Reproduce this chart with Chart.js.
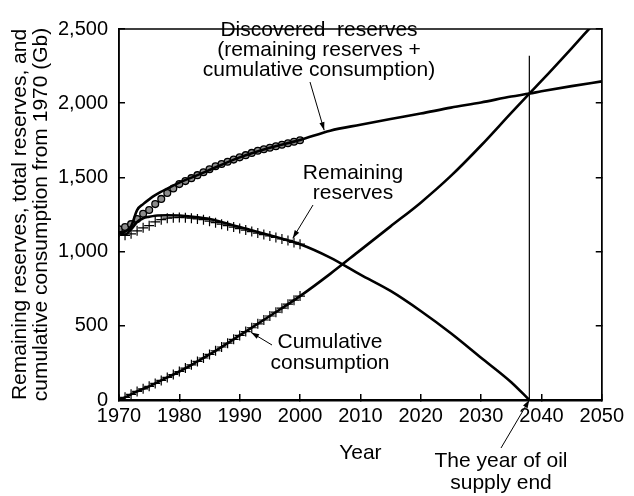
<!DOCTYPE html>
<html lang="en">
<head>
<meta charset="UTF-8">
<title>Oil reserves and cumulative consumption</title>
<script src="https://cdn.jsdelivr.net/npm/chart.js"></script>
<style>
  html, body { margin: 0; padding: 0; background: #fff; }
  #wrap { width: 634px; height: 496px; }
</style>
</head>
<body>
<div id="wrap"><canvas id="chart" width="634" height="496"></canvas></div>
<script>
// Model curves (solid lines)
const modelYears = [1970, 1971, 1972, 1973, 1974, 1975, 1976, 1978, 1980, 1983, 1985, 1990, 1995, 2000,
                    2005, 2010, 2015, 2020, 2025, 2030, 2035, 2038, 2040, 2045, 2050];
const discoveredModel = [1130, 1135, 1170, 1280, 1320, 1352, 1380, 1425, 1465, 1515, 1550, 1635, 1700, 1752,
                         1815, 1855, 1893, 1930, 1970, 2005, 2045, 2065, 2080, 2115, 2147];

const remainingYears = [1970, 1971, 1972, 1973, 1974, 1975, 1976, 1978, 1980, 1983, 1985, 1990, 1995, 2000,
                        2005, 2010, 2015, 2020, 2025, 2030, 2035, 2038];
const remainingModel = [1125, 1115, 1150, 1200, 1225, 1235, 1242, 1245, 1243, 1232, 1220, 1165, 1110, 1050,
                        960, 845, 735, 600, 450, 285, 120, 0];

const cumulativeYears = [1970, 1971, 1972, 1973, 1974, 1975, 1976, 1978, 1980, 1983, 1985, 1990, 1995, 2000,
                         2005, 2010, 2015, 2020, 2025, 2030, 2035, 2038, 2040, 2045, 2048];
const cumulativeModel = [0, 18, 38, 58, 75, 92, 112, 152, 192, 260, 307, 435, 566, 700,
                         850, 1010, 1170, 1330, 1510, 1715, 1935, 2065, 2150, 2370, 2505];

// Observed data (markers), 1970-2000
const obsYears = [1970, 1971, 1972, 1973, 1974, 1975, 1976, 1977, 1978, 1979, 1980, 1981, 1982, 1983, 1984, 1985,
                  1986, 1987, 1988, 1989, 1990, 1991, 1992, 1993, 1994, 1995, 1996, 1997, 1998, 1999, 2000];
const discoveredObs = [1150, 1165, 1185, 1220, 1255, 1280, 1320, 1355, 1395, 1425, 1455, 1475, 1495, 1515, 1535, 1555,
                       1575, 1590, 1605, 1620, 1635, 1650, 1665, 1680, 1690, 1700, 1710, 1720, 1730, 1740, 1750];
const remainingObs = [1130, 1110, 1120, 1140, 1160, 1175, 1200, 1215, 1225, 1228, 1230, 1228, 1225, 1220, 1215, 1205,
                      1195, 1185, 1175, 1165, 1155, 1145, 1135, 1125, 1115, 1105, 1095, 1085, 1075, 1062, 1050];
const cumulativeObs = [0, 18, 38, 58, 75, 92, 112, 132, 152, 172, 192, 215, 237, 260, 283, 307,
                       332, 357, 383, 409, 435, 461, 487, 513, 539, 566, 592, 619, 646, 673, 700];

// Year of oil supply end (vertical marker line)
const supplyEndYears = [2038, 2038];
const supplyEndValues = [0, 2320];

// Axis ticks
const xTickValues = [1970, 1980, 1990, 2000, 2010, 2020, 2030, 2040, 2050];
const xTickLabels = ['1970', '1980', '1990', '2000', '2010', '2020', '2030', '2040', '2050'];
const yTickValues = [0, 500, 1000, 1500, 2000, 2500];
const yTickLabels = ['0', '500', '1,000', '1,500', '2,000', '2,500'];

const FONT = "'Liberation Sans', Arial, Helvetica, sans-serif";

function pts(xs, ys) {
    return xs.map((x, i) => ({ x: x, y: ys[i] }));
}

// Text labels with arrows; arrow tips are in data units
const notes = [
    { lines: ['Discovered  reserves', '(remaining reserves +', 'cumulative consumption)'], x: 319, y: 30, lh: 20,
      from: [310, 82], tip: [2004, 1818] },
    { lines: ['Remaining', 'reserves'], x: 353, y: 173, lh: 20,
      from: [313, 205], tip: [1998.8, 1090] },
    { lines: ['Cumulative', 'consumption'], x: 330, y: 342, lh: 21,
      from: [272, 345], tip: [1991.9, 455] },
    { lines: ['The year of oil', 'supply end'], x: 501, y: 461, lh: 22,
      from: [501, 448], tip: [2038, 0] }
];

const notesPlugin = {
    id: 'notes',
    afterDatasetsDraw(chart) {
        const ctx = chart.ctx;
        const xs = chart.scales.x, ys = chart.scales.y;
        const area = chart.chartArea;
        ctx.save();
        // frame
        ctx.strokeStyle = '#000';
        ctx.lineWidth = 1.5;
        ctx.beginPath();
        ctx.moveTo(area.left, area.bottom);
        ctx.lineTo(area.left, area.top);
        ctx.lineTo(area.right, area.top);
        ctx.lineTo(area.right, area.bottom);
        ctx.stroke();

        ctx.fillStyle = '#000';
        ctx.font = '21px ' + FONT;
        ctx.textAlign = 'center';
        ctx.textBaseline = 'middle';
        notes.forEach(n => {
            n.lines.forEach((t, i) => ctx.fillText(t, n.x, n.y + i * n.lh));
            const tx = xs.getPixelForValue(n.tip[0]);
            const ty = ys.getPixelForValue(n.tip[1]);
            const fx = n.from[0], fy = n.from[1];
            ctx.lineWidth = 1;
            ctx.beginPath();
            ctx.moveTo(fx, fy);
            ctx.lineTo(tx, ty);
            ctx.stroke();
            const ang = Math.atan2(ty - fy, tx - fx);
            const len = 8, half = 2.6;
            ctx.beginPath();
            ctx.moveTo(tx, ty);
            ctx.lineTo(tx - len * Math.cos(ang) + half * Math.sin(ang), ty - len * Math.sin(ang) - half * Math.cos(ang));
            ctx.lineTo(tx - len * Math.cos(ang) - half * Math.sin(ang), ty - len * Math.sin(ang) + half * Math.cos(ang));
            ctx.closePath();
            ctx.fill();
        });
        ctx.restore();
    }
};

const lineStyle = {
    showLine: true,
    borderColor: '#000',
    borderWidth: 2.6,
    pointRadius: 0,
    cubicInterpolationMode: 'monotone',
    fill: false
};

new Chart(document.getElementById('chart'), {
    type: 'scatter',
    data: {
        datasets: [
            Object.assign({ label: 'Discovered reserves (model)', data: pts(modelYears, discoveredModel) }, lineStyle),
            Object.assign({ label: 'Remaining reserves (model)', data: pts(remainingYears, remainingModel) }, lineStyle),
            Object.assign({ label: 'Cumulative consumption (model)', data: pts(cumulativeYears, cumulativeModel) }, lineStyle),
            {
                label: 'Year of oil supply end',
                data: pts(supplyEndYears, supplyEndValues),
                showLine: true,
                borderColor: '#000',
                borderWidth: 1.2,
                pointRadius: 0
            },
            {
                label: 'Discovered reserves (data)',
                data: pts(obsYears, discoveredObs),
                pointStyle: 'circle',
                pointRadius: 3.4,
                backgroundColor: '#8c8c8c',
                borderColor: '#000',
                borderWidth: 1.3
            },
            {
                label: 'Remaining reserves (data)',
                data: pts(obsYears, remainingObs),
                pointStyle: 'cross',
                pointRadius: 5,
                borderColor: '#000',
                borderWidth: 1.2
            },
            {
                label: 'Cumulative consumption (data)',
                data: pts(obsYears, cumulativeObs),
                pointStyle: 'cross',
                pointRadius: 5,
                borderColor: '#000',
                borderWidth: 1.2
            }
        ]
    },
    options: {
        responsive: false,
        animation: false,
        layout: { padding: { top: 15, right: 26, left: 0, bottom: 0 } },
        plugins: {
            legend: { display: false },
            tooltip: { enabled: false }
        },
        scales: {
            x: {
                type: 'linear',
                position: 'bottom',
                min: 1970,
                max: 2050,
                afterBuildTicks: s => { s.ticks = xTickValues.map(v => ({ value: v })); },
                afterFit: s => { s.height = 96; },
                ticks: {
                    color: '#000',
                    font: { family: FONT, size: 20 },
                    padding: 10,
                    maxRotation: 0,
                    callback: v => xTickLabels[xTickValues.indexOf(v)]
                },
                grid: { drawOnChartArea: false, color: '#000', lineWidth: 1.5, tickLength: -6 },
                border: { color: '#000', width: 2.6 },
                title: {
                    display: true,
                    text: 'Year',
                    color: '#000',
                    font: { family: FONT, size: 21 },
                    padding: { top: 0, bottom: 30 }
                }
            },
            y: {
                type: 'linear',
                position: 'left',
                min: 0,
                max: 2500,
                afterBuildTicks: s => { s.ticks = yTickValues.map(v => ({ value: v })); },
                afterFit: s => { s.width = 119; },
                ticks: {
                    color: '#000',
                    font: { family: FONT, size: 20 },
                    padding: 17,
                    callback: v => yTickLabels[yTickValues.indexOf(v)]
                },
                grid: { drawOnChartArea: false, color: '#000', lineWidth: 1.5, tickLength: -6 },
                border: { color: '#000', width: 1.5 },
                title: {
                    display: true,
                    text: ['Remaining reserves, total reserves, and', 'cumulative consumption from 1970 (Gb)'],
                    color: '#000',
                    font: { family: FONT, size: 21, lineHeight: 1.0 },
                    padding: { top: 10, bottom: 0 }
                }
            },
            y2: {
                type: 'linear',
                position: 'right',
                min: 0,
                max: 2500,
                afterBuildTicks: s => { s.ticks = yTickValues.map(v => ({ value: v })); },
                afterFit: s => { s.width = 0; },
                ticks: { display: false },
                grid: { drawOnChartArea: false, color: '#000', lineWidth: 1.5, tickLength: -6 },
                border: { color: '#000', width: 1.5 }
            }
        }
    },
    plugins: [notesPlugin]
});
</script>
</body>
</html>
